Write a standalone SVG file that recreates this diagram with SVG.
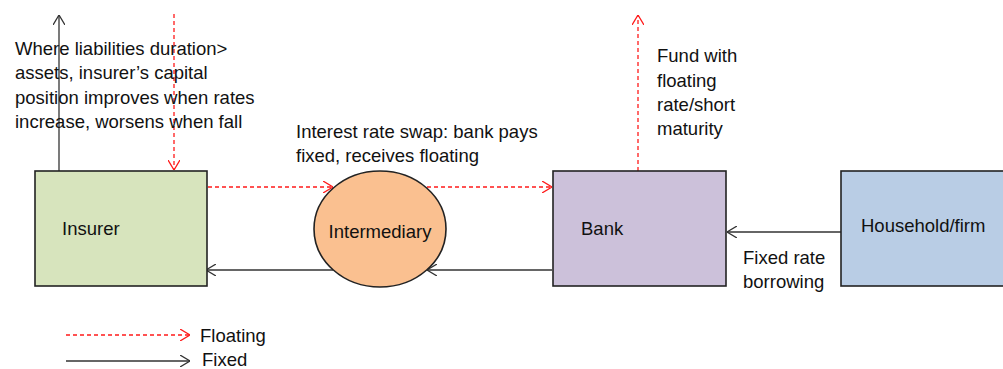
<svg xmlns="http://www.w3.org/2000/svg" width="1003" height="369" viewBox="0 0 1003 369">
<defs>
<style>
text{font-family:"Liberation Sans",Arial,sans-serif;font-size:18.5px;fill:#111}
.box{stroke:#222;stroke-width:1.6}
.fix{stroke:#333;stroke-width:1.3;fill:none;marker-end:url(#ah)}
.flt{stroke:#ff1a1a;stroke-width:1.3;fill:none;stroke-dasharray:4 3;marker-end:url(#ahr)}
</style>
<marker id="ah" viewBox="0 0 10 12" refX="10" refY="6" markerWidth="10" markerHeight="12" markerUnits="userSpaceOnUse" orient="auto"><path d="M0,0 L10,6 L0,12" fill="none" stroke="#333" stroke-width="1.3"/></marker>
<marker id="ahr" viewBox="0 0 10 12" refX="10" refY="6" markerWidth="10" markerHeight="12" markerUnits="userSpaceOnUse" orient="auto"><path d="M0,0 L10,6 L0,12" fill="none" stroke="#ff1a1a" stroke-width="1.3"/></marker>
</defs>
<rect width="1003" height="369" fill="#fff"/>
<g id="connectors">
<line class="fix" x1="59" y1="171" x2="59" y2="15"/>
<line class="flt" x1="174" y1="14" x2="174" y2="170"/>
<line class="flt" x1="208" y1="187" x2="333" y2="187"/>
<line class="flt" x1="427" y1="187" x2="552" y2="187"/>
<line class="fix" x1="552" y1="270" x2="427" y2="270"/>
<line class="fix" x1="333" y1="270" x2="206" y2="270"/>
<line class="flt" x1="638" y1="171" x2="638" y2="15"/>
<line class="fix" x1="841" y1="232" x2="727" y2="232"/>
</g>
<g id="insurer"><rect class="box" x="35" y="171" width="172" height="115" fill="#d7e4bd"/><text x="62" y="235">Insurer</text></g>
<g id="intermediary"><ellipse class="box" cx="380" cy="229" rx="66" ry="58" fill="#fac090"/><text x="380" y="238" text-anchor="middle">Intermediary</text></g>
<g id="bank"><rect class="box" x="553" y="171" width="173" height="115" fill="#ccc1da"/><text x="581" y="235">Bank</text></g>
<g id="household"><rect class="box" x="841" y="171" width="170" height="115" fill="#b9cde5"/><text x="861" y="232">Household/firm</text></g>
<g id="labels">
<text x="15" y="55">Where liabilities duration&gt;</text>
<text x="15" y="79">assets, insurer’s capital</text>
<text x="15" y="103.5">position improves when rates</text>
<text x="15" y="128">increase, worsens when fall</text>
<text x="296" y="138">Interest rate swap: bank pays</text>
<text x="296" y="162">fixed, receives floating</text>
<text x="657" y="62">Fund with</text>
<text x="657" y="86.5">floating</text>
<text x="657" y="111">rate/short</text>
<text x="657" y="135">maturity</text>
<text x="743" y="264">Fixed rate</text>
<text x="743" y="288">borrowing</text>
</g>
<g id="legend">
<line class="flt" x1="66" y1="335" x2="190" y2="335"/>
<text x="200" y="342">Floating</text>
<line class="fix" x1="66" y1="361" x2="190" y2="361"/>
<text x="202" y="366">Fixed</text>
</g>
</svg>
